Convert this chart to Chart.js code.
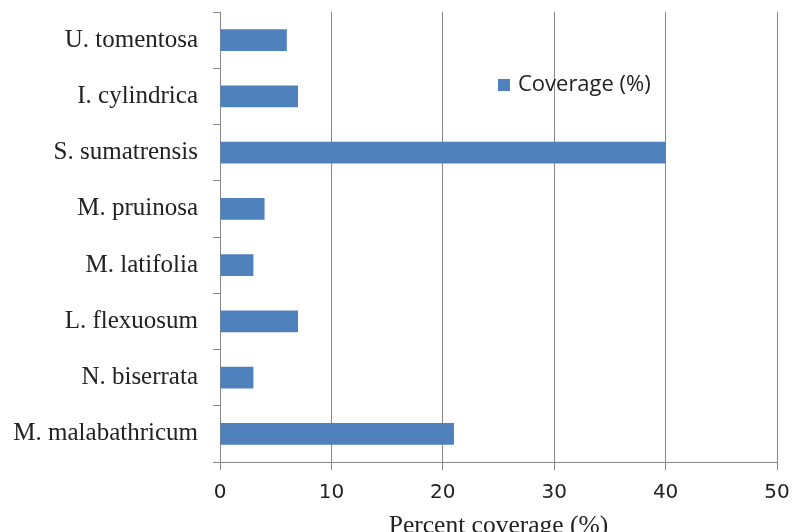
<!DOCTYPE html>
<html>
<head>
<meta charset="utf-8">
<script src="https://cdn.jsdelivr.net/npm/chart.js@4/dist/chart.umd.min.js"></script>
<style>
  html,body{margin:0;padding:0;background:#fff;overflow:hidden;}
  #wrap{width:793px;height:545px;}
</style>
</head>
<body>
<div id="wrap"><canvas id="c"></canvas></div>
<script>
/* ── DATA ── */
const species  = ['U. tomentosa','I. cylindrica','S. sumatrensis','M. pruinosa','M. latifolia','L. flexuosum','N. biserrata','M. malabathricum'];
const coverage = [6, 7, 40, 4, 3, 7, 3, 21];
const seriesName = 'Coverage (%)';
const xTitle = 'Percent coverage (%)';

const BLUE = '#4F81BD', GRID = '#878787';

// legend sits inside the plot, like the original
const insideLegend = {
  id:'insideLegend',
  afterDraw(chart){
    const {ctx, chartArea:a} = chart;
    const x = a.left + (a.right-a.left)*0.499, y = a.top + 73;
    ctx.save();
    ctx.fillStyle = BLUE;
    ctx.fillRect(x, y-6, 12, 12);
    ctx.fillStyle = '#222';
    ctx.font = '22px "Open Sans", sans-serif';
    ctx.textBaseline = 'middle';
    ctx.fillText(seriesName, x+20, y);
    ctx.restore();
  }
};

new Chart(document.getElementById('c').getContext('2d'),{
  type:'bar',
  data:{ labels:species,
    datasets:[{ label:seriesName, data:coverage, backgroundColor:BLUE, borderWidth:0,
                categoryPercentage:1, barPercentage:0.39 }]
  },
  options:{
    indexAxis:'y', responsive:true, maintainAspectRatio:false, animation:false,
    layout:{ padding:{ top:12, right:16, left:0, bottom:0 } },
    plugins:{ legend:{display:false}, tooltip:{enabled:false} },
    scales:{
      x:{ min:0, max:50,
        ticks:{ stepSize:10, color:'#222', padding:11, font:{family:'"DejaVu Sans", sans-serif', size:20} },
        grid:{ color:GRID, lineWidth:1, tickLength:8 },
        border:{ color:GRID, width:1 },
        title:{ display:true, text:xTitle, color:'#222', padding:{top:0,bottom:3},
                font:{family:'"Liberation Serif", serif', size:25.5} },
        afterFit(s){ s.height = 83; s.paddingLeft = 0; s.paddingRight = 0; }
      },
      y:{
        ticks:{ color:'#222', padding:15, font:{family:'"Liberation Serif", serif', size:25} },
        grid:{ drawOnChartArea:false, offset:true, color:GRID, tickLength:7 },
        border:{ color:GRID, width:1 },
        afterFit(s){ s.width = 220; s.paddingTop = 0; s.paddingBottom = 0; }
      }
    }
  },
  plugins:[insideLegend]
});
</script>
</body>
</html>
